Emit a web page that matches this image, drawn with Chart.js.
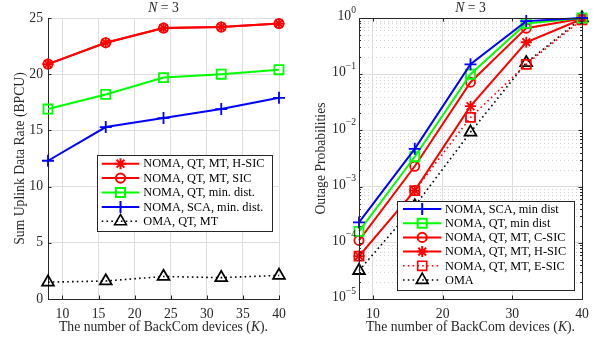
<!DOCTYPE html>
<html>
<head>
<meta charset="utf-8">
<script src="https://cdn.jsdelivr.net/npm/chart.js@4/dist/chart.umd.min.js"></script>
<style>
  body { margin: 0; background: #fff; }
  #wrap { position: relative; width: 605px; height: 340px; }
  canvas { position: absolute; top: 0; }
</style>
</head>
<body>
<div id="wrap">
  <canvas id="rateChart" width="300" height="340" style="left:0"></canvas>
  <canvas id="outageChart" width="305" height="340" style="left:300px"></canvas>
</div>
<script>
const devices = [8, 16, 24, 32, 40];

// left panel: sum uplink data rate (BPCU)
const rateHSIC = [20.9, 22.8, 24.1, 24.2, 24.5];
const rateSIC = [20.9, 22.8, 24.1, 24.2, 24.5];
const rateQTMinDist = [16.9, 18.2, 19.7, 20.0, 20.4];
const rateSCAMinDist = [12.3, 15.3, 16.1, 16.9, 17.9];
const rateOMA = [1.5, 1.6, 2.0, 1.9, 2.1];
const rateXTicks = [10, 15, 20, 25, 30, 35, 40];
const rateYTicks = [0, 5, 10, 15, 20, 25];

// right panel: outage probabilities
const outSCAMinDist = [2.3e-4, 4.7e-3, 0.15, 0.88, 1.0];
const outQTMinDist = [1.6e-4, 3.4e-3, 0.10, 0.80, 1.0];
const outCSIC = [1.1e-4, 2.3e-3, 0.072, 0.66, 0.98];
const outHSIC = [5.8e-5, 8.5e-4, 0.027, 0.37, 0.96];
const outESIC = [5.8e-5, 8.5e-4, 0.017, 0.15, 0.93];
const outOMA = [3.2e-5, 4.5e-4, 9.3e-3, 0.16, 1.0];
const outXTicks = [10, 20, 30, 40];
const outYTicks = [1e-5, 1e-4, 1e-3, 1e-2, 1e-1, 1];

const FONT = "'Liberation Serif', 'Times New Roman', serif";
const AX = 13.7, LEG = 12.3;
const INK = '#262626';
const GRID = '#dedede';
const MINOR = '#d2d2d2';
const NONE = 'rgba(0,0,0,0)';

function series(label, data, color, style, radius, dotted) {
  return {
    label, data: data.map((v, i) => ({ x: devices[i], y: v })),
    borderColor: color, backgroundColor: NONE,
    borderWidth: dotted ? 1.6 : 2, borderDash: dotted ? [1.6, 3.2] : [],
    pointStyle: style, pointRadius: radius, pointBorderWidth: 1.8,
    pointBorderColor: color, pointBackgroundColor: NONE,
    clip: false, tension: 0
  };
}

function richText(ctx, parts, x, y, size) {
  let total = 0;
  parts.forEach(p => {
    ctx.font = (p.italic ? 'italic ' : '') + size + 'px ' + FONT;
    p.w = ctx.measureText(p.text).width;
    total += p.w;
  });
  let cx = x - total / 2;
  ctx.textAlign = 'left';
  parts.forEach(p => {
    ctx.font = (p.italic ? 'italic ' : '') + size + 'px ' + FONT;
    ctx.fillText(p.text, cx, y);
    cx += p.w;
  });
}

function crisp(v) { return Math.round(v) + 0.5; }

// matlab-ish decorations: inward ticks, box, minor grid, legend, titles
function decor(cfg) {
  return {
    id: 'decor',
    beforeDatasetsDraw(chart) {
      if (!cfg.logMinor) return;
      const { ctx, chartArea: a } = chart;
      const ys = chart.scales.y;
      ctx.save();
      ctx.strokeStyle = MINOR;
      ctx.lineWidth = 1;
      ctx.setLineDash([1, 3]);
      for (let k = -5; k < 0; k++) {
        for (let m = 2; m <= 9; m++) {
          const y = crisp(ys.getPixelForValue(m * Math.pow(10, k)));
          ctx.beginPath(); ctx.moveTo(a.left + 1, y); ctx.lineTo(a.right, y); ctx.stroke();
        }
      }
      ctx.restore();
    },
    afterDatasetsDraw(chart) {
      const { ctx, chartArea: a } = chart;
      const xs = chart.scales.x, ys = chart.scales.y;
      ctx.save();
      ctx.strokeStyle = INK;
      ctx.lineWidth = 1;
      ctx.setLineDash([]);
      if (cfg.box) ctx.strokeRect(crisp(a.left), crisp(a.top), Math.round(a.right) - Math.round(a.left), Math.round(a.bottom) - Math.round(a.top));
      const tl = 3.5;
      ctx.beginPath();
      cfg.xTicks.forEach(v => {
        const x = crisp(xs.getPixelForValue(v));
        ctx.moveTo(x, a.bottom); ctx.lineTo(x, a.bottom - tl);
        if (cfg.box) { ctx.moveTo(x, a.top); ctx.lineTo(x, a.top + tl); }
      });
      cfg.yTicks.forEach(v => {
        const y = crisp(ys.getPixelForValue(v));
        ctx.moveTo(a.left, y); ctx.lineTo(a.left + tl, y);
        if (cfg.box) { ctx.moveTo(a.right, y); ctx.lineTo(a.right - tl, y); }
      });
      if (cfg.logMinor) {
        for (let k = -5; k < 0; k++) {
          for (let m = 2; m <= 9; m++) {
            const y = crisp(ys.getPixelForValue(m * Math.pow(10, k)));
            ctx.moveTo(a.left, y); ctx.lineTo(a.left + 2, y);
            ctx.moveTo(a.right, y); ctx.lineTo(a.right - 2, y);
          }
        }
      }
      ctx.stroke();

      // legend inside the axes
      const L = cfg.legend;
      ctx.fillStyle = '#fff';
      ctx.fillRect(L.x, L.y, L.w, L.h);
      ctx.strokeRect(crisp(L.x), crisp(L.y), Math.round(L.w), Math.round(L.h));
      L.order.forEach((di, row) => {
        const ds = chart.data.datasets[di];
        const y = L.y + L.first + row * L.step;
        ctx.strokeStyle = ds.borderColor;
        ctx.lineWidth = ds.borderWidth;
        ctx.setLineDash(ds.borderDash);
        ctx.beginPath(); ctx.moveTo(L.x + L.l0, y); ctx.lineTo(L.x + L.l1, y); ctx.stroke();
        ctx.setLineDash([]);
        ctx.fillStyle = NONE;
        Chart.helpers.drawPoint(ctx, {
          pointStyle: ds.pointStyle, rotation: 0, radius: ds.pointRadius, borderWidth: ds.pointBorderWidth
        }, L.x + (L.l0 + L.l1) / 2, y);
        ctx.fillStyle = '#000';
        ctx.font = LEG + 'px ' + FONT;
        ctx.textAlign = 'left';
        ctx.textBaseline = 'middle';
        ctx.fillText(ds.label, L.x + L.tx, y + 0.5);
      });
      ctx.restore();
    },
    afterDraw(chart) {
      const { ctx, chartArea: a } = chart;
      ctx.save();
      ctx.fillStyle = INK;
      ctx.textBaseline = 'alphabetic';
      const cx = (a.left + a.right) / 2;
      richText(ctx, [{ text: 'N', italic: true }, { text: ' = 3' }], cx, 11.8, AX);
      richText(ctx, [{ text: 'The number of BackCom devices (' }, { text: 'K', italic: true }, { text: ').' }], cx, 331, AX);
      ctx.save();
      ctx.translate(cfg.yLabelX, (a.top + a.bottom) / 2);
      ctx.rotate(-Math.PI / 2);
      richText(ctx, [{ text: cfg.yLabel }], 0, 0, AX);
      ctx.restore();
      if (cfg.logMinor) {
        const ys = chart.scales.y;
        cfg.yTicks.forEach(v => {
          const e = Math.round(Math.log10(v));
          const sup = e < 0 ? '\u2212' + (-e) : String(e);
          const y = ys.getPixelForValue(v);
          ctx.font = AX + 'px ' + FONT;
          const wb = ctx.measureText('10').width;
          ctx.font = (AX * 0.7) + 'px ' + FONT;
          const ws = ctx.measureText(sup).width;
          const right = a.left - 3;
          ctx.textAlign = 'left';
          ctx.textBaseline = 'middle';
          ctx.font = AX + 'px ' + FONT;
          ctx.fillText('10', right - wb - ws, y - 1.5);
          ctx.font = (AX * 0.7) + 'px ' + FONT;
          ctx.fillText(sup, right - ws, y - 8);
        });
      }
      ctx.restore();
    }
  };
}

function axisOpts(extra, pad) {
  return Object.assign({
    grid: { color: GRID, lineWidth: 1, drawTicks: false },
    border: { color: INK, width: 1 },
    ticks: { font: { family: FONT, size: AX }, color: INK, maxRotation: 0, autoSkip: false, padding: pad }
  }, extra);
}

// left chart
new Chart(document.getElementById('rateChart'), {
  type: 'line',
  data: {
    datasets: [
      series('NOMA, QT, MT, H-SIC', rateHSIC, '#ff0000', 'star', 5.5),
      series('NOMA, QT, MT, SIC', rateSIC, '#ff0000', 'circle', 4.6),
      series('NOMA, QT, min. dist.', rateQTMinDist, '#00ff00', 'rect', 6.4),
      series('NOMA, SCA, min. dist.', rateSCAMinDist, '#0000ff', 'cross', 6),
      series('OMA, QT, MT', rateOMA, '#000000', 'triangle', 6.8, true)
    ]
  },
  options: {
    responsive: false, animation: false,
    layout: { padding: { top: 18, right: 21, left: 0, bottom: 0 } },
    plugins: { legend: { display: false }, tooltip: { enabled: false } },
    scales: {
      x: axisOpts({
        type: 'linear', min: 8, max: 40,
        afterBuildTicks: s => { s.ticks = rateXTicks.map(v => ({ value: v })); },
        afterFit: s => { s.height = 41; }
      }, 7),
      y: axisOpts({
        type: 'linear', min: 0, max: 25,
        afterBuildTicks: s => { s.ticks = rateYTicks.map(v => ({ value: v })); },
        afterFit: s => { s.width = 48; }
      }, 5)
    }
  },
  plugins: [decor({
    box: false, logMinor: false, xTicks: rateXTicks, yTicks: rateYTicks,
    yLabel: 'Sum Uplink Data Rate (BPCU)', yLabelX: 23.5,
    legend: { x: 97, y: 155, w: 175, h: 76, first: 8.7, step: 14.4, l0: 4.7, l1: 42.3, tx: 46.3, order: [0, 1, 2, 3, 4] }
  })]
});

// right chart
const outY = axisOpts({
  type: 'logarithmic', min: 1e-5, max: 1,
  afterBuildTicks: s => { s.ticks = outYTicks.map(v => ({ value: v })); },
  afterFit: s => { s.width = 59; }
}, 5);
outY.ticks.display = false;

new Chart(document.getElementById('outageChart'), {
  type: 'line',
  data: {
    datasets: [
      series('NOMA, SCA, min dist', outSCAMinDist, '#0000ff', 'cross', 6),
      series('NOMA, QT, min dist', outQTMinDist, '#00ff00', 'rect', 6.4),
      series('NOMA, QT, MT, C-SIC', outCSIC, '#ff0000', 'circle', 4.6),
      series('NOMA, QT, MT, H-SIC', outHSIC, '#ff0000', 'star', 5.5),
      series('NOMA, QT, MT, E-SIC', outESIC, '#ff0000', 'rect', 6.4, true),
      series('OMA', outOMA, '#000000', 'triangle', 6.8, true)
    ]
  },
  options: {
    responsive: false, animation: false,
    layout: { padding: { top: 18, right: 23, left: 0, bottom: 0 } },
    plugins: { legend: { display: false }, tooltip: { enabled: false } },
    scales: {
      x: axisOpts({
        type: 'linear', min: 8, max: 40,
        afterBuildTicks: s => { s.ticks = outXTicks.map(v => ({ value: v })); },
        afterFit: s => { s.height = 41; }
      }, 7),
      y: outY
    }
  },
  plugins: [decor({
    box: true, logMinor: true, xTicks: outXTicks, yTicks: outYTicks,
    yLabel: 'Outage Probabilities', yLabelX: 25,
    legend: { x: 97, y: 201, w: 177, h: 89, first: 8, step: 14.2, l0: 6, l1: 44.4, tx: 48, order: [0, 1, 2, 3, 4, 5] }
  })]
});
</script>
</body>
</html>
